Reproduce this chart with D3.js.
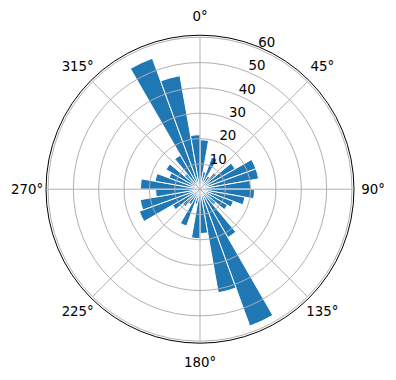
<!DOCTYPE html>
<html><head><meta charset="utf-8">
<script src="https://cdn.jsdelivr.net/npm/d3@7"></script>
<style>body{margin:0;background:#fff}svg{display:block}</style>
</head><body>
<svg id="c" width="396" height="380"></svg>
<script>
const binStart = [0,10,20,30,40,50,60,70,80,90,100,110,120,130,140,150,160,170,180,190,200,210,220,230,240,250,260,270,280,290,300,310,320,330,340,350];
const values = [19.5,7,13.5,6,8.5,16,23.5,23.5,20,21.5,18,14,12.5,8,22,57.5,41.5,17.5,19.5,6,15.5,7,9,12.5,25.5,24,17.5,23.5,18,13,15.5,8,15.5,55,45.5,21.5];
const angleTicks = [0,45,90,135,180,225,270,315];
const angleLabels = ["0°","45°","90°","135°","180°","225°","270°","315°"];
const radialTicks = [10,20,30,40,50,60];
const radialLabels = ["10","20","30","40","50","60"];

const cx = 200, cy = 189.2, R = 152, Rspine = 154;
const binWidth = 10;
const r = d3.scaleLinear().domain([0, 60]).range([0, R]);
const rad = d => d * Math.PI / 180;
const svg = d3.select('#c');
const g = svg.append('g').attr('transform', `translate(${cx},${cy})`);

const arc = d3.arc().innerRadius(0)
  .outerRadius(d => r(d.v))
  .startAngle(d => rad(d.a))
  .endAngle(d => rad(d.a + binWidth));

g.selectAll('path.bar').data(binStart.map((a, i) => ({a, v: values[i]})))
  .join('path').attr('class', 'bar').attr('d', arc)
  .attr('fill', '#1f77b4').attr('stroke', '#fff').attr('stroke-width', 1);

// grid circles
g.selectAll('circle.grid').data(radialTicks).join('circle').attr('class', 'grid')
  .attr('r', d => r(d)).attr('fill', 'none').attr('stroke', '#b0b0b0').attr('stroke-width', 1);
// angular grid lines
g.selectAll('line.grid').data(angleTicks).join('line').attr('class', 'grid')
  .attr('x1', 0).attr('y1', 0)
  .attr('x2', d => Math.sin(rad(d)) * R).attr('y2', d => -Math.cos(rad(d)) * R)
  .attr('stroke', '#b0b0b0').attr('stroke-width', 1);
// spine
g.append('circle').attr('r', Rspine).attr('fill', 'none').attr('stroke', '#000').attr('stroke-width', 1);

const font = "'DejaVu Sans', sans-serif";
// theta labels
g.selectAll('text.theta').data(angleTicks).join('text').attr('class', 'theta')
  .attr('x', d => Math.sin(rad(d)) * 173).attr('y', d => -Math.cos(rad(d)) * 173)
  .attr('text-anchor', 'middle').attr('dominant-baseline', 'central')
  .attr('font-family', font).attr('font-size', '13.33px').attr('fill', '#000')
  .text((d, i) => angleLabels[i]);
// radial labels
const rl = 22.5;
g.selectAll('text.rad').data(radialTicks).join('text').attr('class', 'rad')
  .attr('x', d => Math.sin(rad(rl)) * r(d)).attr('y', d => -Math.cos(rad(rl)) * r(d) - 2)
  .attr('text-anchor', 'start')
  .attr('font-family', font).attr('font-size', '13.33px').attr('fill', '#000')
  .text((d, i) => radialLabels[i]);
</script>
</body></html>
